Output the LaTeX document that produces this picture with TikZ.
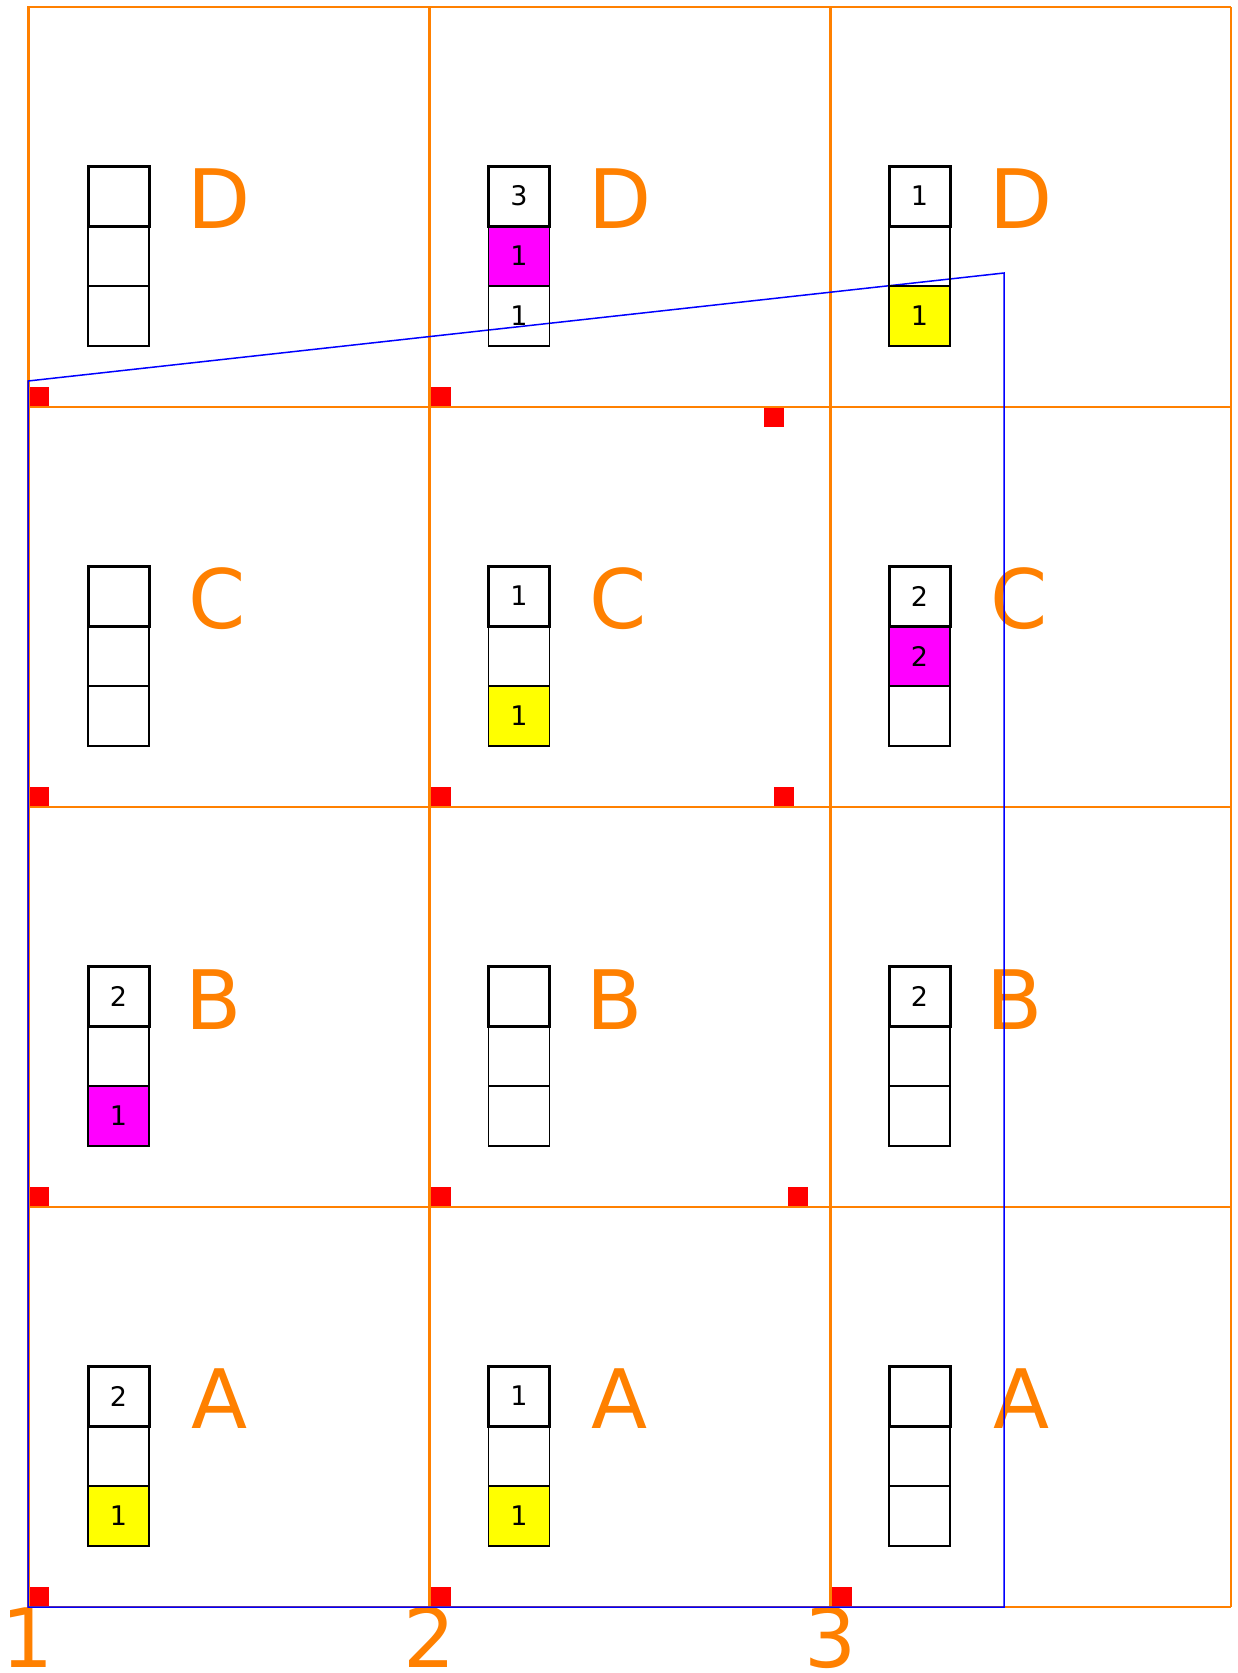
\documentclass[tikz,border=0pt]{standalone}
\usepackage{fontspec}
\setmainfont{DejaVu Sans}
\definecolor{gor}{RGB}{255,128,0}
\definecolor{mag}{RGB}{255,0,255}
\definecolor{yel}{RGB}{255,255,0}
\newcommand{\boxcol}[8]{%
  \node[cellbox,fill=#7] (#1c) at (#2,#3+120) {#8};
  \node[cellbox,fill=#5] (#1b) at (#2,#3+60) {#6};
  \node[topbox] (#1a) at (#2,#3) {#4};
}
\begin{document}
\begin{tikzpicture}[x=1pt,y=-1pt,
  gridthick/.style={draw=gor,line width=3pt},
  gridmid/.style={draw=gor,line width=2pt},
  gridthin/.style={draw=gor,line width=1.5pt},
  redsq/.style={fill=red},
  cellbox/.style={draw=black,line width=1.3pt,minimum width=61pt,minimum height=60pt,inner sep=0pt,outer sep=0pt,anchor=north west,font=\fontsize{27}{27}\selectfont},
  topbox/.style={cellbox,line width=3pt},
  letter/.style={text=gor,font=\fontsize{82}{82}\selectfont,anchor=base,inner sep=0pt},
  outline/.style={draw=blue,line width=1.5pt}
]
\useasboundingbox (0,0) rectangle (1237,1673);
% red squares
\fill[redsq] (29,387) rectangle (49,407);
\fill[redsq] (431,387) rectangle (451,407);
\fill[redsq] (764,407) rectangle (784,427);
\fill[redsq] (29,787) rectangle (49,807);
\fill[redsq] (431,787) rectangle (451,807);
\fill[redsq] (774,787) rectangle (794,807);
\fill[redsq] (29,1187) rectangle (49,1207);
\fill[redsq] (431,1187) rectangle (451,1207);
\fill[redsq] (788,1187) rectangle (808,1207);
\fill[redsq] (29,1587) rectangle (49,1607);
\fill[redsq] (431,1587) rectangle (451,1607);
\fill[redsq] (832,1587) rectangle (852,1607);
% grid
\draw[gridthin] (28,7) -- (1231,7);
\draw[gridmid] (28,407) -- (1231,407);
\draw[gridmid] (28,807) -- (1231,807);
\draw[gridmid] (28,1207) -- (1231,1207);
\draw[gridthin] (28,1607) -- (1231,1607);
\draw[gridthin] (1231,7) -- (1231,1607);
\draw[gridthick] (28,6) -- (28,1608);
\draw[gridthick] (429,6) -- (429,1608);
\draw[gridthick] (830,6) -- (830,1608);
% letters
\node[letter] (d1) at (219,228) {D};
\node[letter] (d2) at (620,228) {D};
\node[letter] (d3) at (1021,228) {D};
\node[letter] (c1) at (217,628) {C};
\node[letter] (c2) at (618,628) {C};
\node[letter] (c3) at (1019,628) {C};
\node[letter] (b1) at (214,1029) {B};
\node[letter] (b2) at (615,1029) {B};
\node[letter] (b3) at (1015,1029) {B};
\node[letter] (a1) at (220,1428) {A};
\node[letter] (a2) at (620,1428) {A};
\node[letter] (a3) at (1022,1428) {A};
% column numbers
\node[letter] (n1) at (28,1667) {1};
\node[letter] (n2) at (429.5,1667) {2};
\node[letter] (n3) at (831,1667) {3};
% blue outline
\coordinate (p1) at (28,381);
\coordinate (p2) at (1004,273);
\coordinate (p3) at (1004,1607);
\coordinate (p4) at (28,1607);
\draw[outline] (p1) -- (p2) -- (p3) -- (p4) -- cycle;
% box stacks
\boxcol{sd1}{88}{166}{}{none}{}{none}{}
\boxcol{sd2}{488.5}{166}{3}{mag}{1}{none}{1}
\boxcol{sd3}{889}{166}{1}{none}{}{yel}{1}
\boxcol{sc1}{88}{566}{}{none}{}{none}{}
\boxcol{sc2}{488.5}{566}{1}{none}{}{yel}{1}
\boxcol{sc3}{889}{566}{2}{mag}{2}{none}{}
\boxcol{sb1}{88}{966}{2}{none}{}{mag}{1}
\boxcol{sb2}{488.5}{966}{}{none}{}{none}{}
\boxcol{sb3}{889}{966}{2}{none}{}{none}{}
\boxcol{sa1}{88}{1366}{2}{none}{}{yel}{1}
\boxcol{sa2}{488.5}{1366}{1}{none}{}{yel}{1}
\boxcol{sa3}{889}{1366}{}{none}{}{none}{}
\end{tikzpicture}
\end{document}
